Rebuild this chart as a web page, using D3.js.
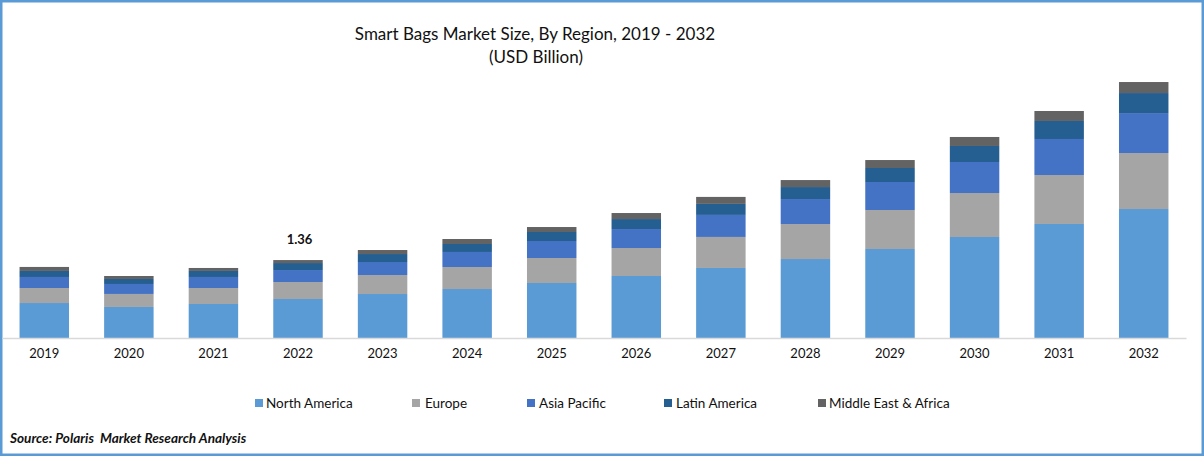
<!DOCTYPE html>
<html>
<head>
<meta charset="utf-8">
<title>Smart Bags Market Size</title>
<script src="https://cdnjs.cloudflare.com/ajax/libs/d3/7.8.5/d3.min.js"></script>
<style>
    html, body { margin: 0; padding: 0; background: #fff; }
    svg { display: block; }
    text { font-family: Lato, "Open Sans", sans-serif; fill: #111; }
</style>
</head>
<body>
<svg id="chart" width="1204" height="456"></svg>
<script>
// values, USD billion
const years = ["2019", "2020", "2021", "2022", "2023", "2024", "2025", "2026", "2027", "2028", "2029", "2030", "2031", "2032"];
const regions = ["North America", "Europe", "Asia Pacific", "Latin America", "Middle East & Africa"];
const northAmerica = [0.610, 0.541, 0.593, 0.680, 0.767, 0.854, 0.959, 1.081, 1.221, 1.377, 1.552, 1.761, 1.988, 2.249];
const europe = [0.262, 0.227, 0.279, 0.296, 0.331, 0.384, 0.436, 0.488, 0.541, 0.610, 0.680, 0.767, 0.854, 0.976];
const asiaPacific = [0.192, 0.174, 0.192, 0.209, 0.227, 0.262, 0.296, 0.331, 0.384, 0.436, 0.488, 0.541, 0.628, 0.697];
const latinAmerica = [0.105, 0.087, 0.105, 0.122, 0.139, 0.139, 0.157, 0.174, 0.192, 0.209, 0.244, 0.279, 0.314, 0.349];
const middleEast = [0.070, 0.052, 0.052, 0.052, 0.070, 0.087, 0.087, 0.105, 0.122, 0.122, 0.139, 0.157, 0.174, 0.192];
const regionColors = ["#5B9BD5", "#A5A5A5", "#4472C4", "#255E91", "#636363"];
const labelYear = "2022";
const labelText = "1.36";

const _width = 1204;
const _height = 456;
const _baseline = 338;
const _pxPerBillion = 78 / 1.36;
const _legendX = [255, 412, 527, 664, 818];
const _legendTextGap = [11, 13, 12, 12, 11];

const svg = d3.select("#chart");

// outer frame
svg.append("rect")
    .attr("x", 1).attr("y", 1)
    .attr("width", _width - 2).attr("height", _height - 2)
    .attr("fill", "#fff")
    .attr("stroke", "#5B9BD5")
    .attr("stroke-width", 3);

// title
svg.append("text").attr("x", 535).attr("y", 40).attr("text-anchor", "middle")
    .attr("font-size", 17).text("Smart Bags Market Size, By Region, 2019 - 2032");
svg.append("text").attr("x", 536).attr("y", 63).attr("text-anchor", "middle")
    .attr("font-size", 17).text("(USD Billion)");

const x = d3.scaleBand().domain(years).range([2, 1186]).paddingInner(0.415).paddingOuter(0.2075);
const y = d3.scaleLinear().domain([0, _baseline / _pxPerBillion]).range([_baseline, 0]);

const rows = years.map(function (year, i) {
    return {
        year: year,
        "North America": northAmerica[i],
        "Europe": europe[i],
        "Asia Pacific": asiaPacific[i],
        "Latin America": latinAmerica[i],
        "Middle East & Africa": middleEast[i]
    };
});
const stacked = d3.stack().keys(regions)(rows);

svg.selectAll("g.series")
    .data(stacked)
    .join("g")
    .attr("class", "series")
    .attr("fill", function (d, i) { return regionColors[i]; })
    .selectAll("rect")
    .data(function (d) { return d; })
    .join("rect")
    .attr("x", function (d) { return x(d.data.year); })
    .attr("width", x.bandwidth())
    .attr("y", function (d) { return y(d[1]); })
    .attr("height", function (d) { return y(d[0]) - y(d[1]); });

// x axis
const axis = svg.append("g")
    .attr("transform", "translate(0," + _baseline + ")")
    .call(d3.axisBottom(x).tickSize(0).tickPadding(11));
axis.select(".domain").attr("stroke", "#D9D9D9").attr("stroke-width", 1.5);
axis.selectAll("text")
    .attr("font-size", 13)
    .style("font-family", "Lato, 'Open Sans', sans-serif")
    .style("fill", "#111");

// the one labelled total
const labelRow = stacked[stacked.length - 1].find(function (d) { return d.data.year === labelYear; });
svg.append("text")
    .attr("x", x(labelYear) + x.bandwidth() / 2 + 1.5)
    .attr("y", y(labelRow[1]) - 16)
    .attr("text-anchor", "middle")
    .attr("font-size", 13)
    .attr("font-weight", "bold")
    .text(labelText);

// legend
const legend = svg.selectAll("g.legend")
    .data(regions)
    .join("g")
    .attr("class", "legend")
    .attr("transform", function (d, i) { return "translate(" + _legendX[i] + ",399)"; });
legend.append("rect")
    .attr("width", 8).attr("height", 8)
    .attr("fill", function (d, i) { return regionColors[i]; });
legend.append("text")
    .attr("x", function (d, i) { return _legendTextGap[i]; })
    .attr("y", 9)
    .attr("font-size", 13.5)
    .text(function (d) { return d; });

// source
svg.append("text")
    .attr("x", 10).attr("y", 442.5)
    .attr("font-size", 13.6)
    .attr("font-weight", "bold")
    .attr("font-style", "italic")
    .attr("xml:space", "preserve")
    .text("Source: Polaris  Market Research Analysis");
</script>
</body>
</html>
